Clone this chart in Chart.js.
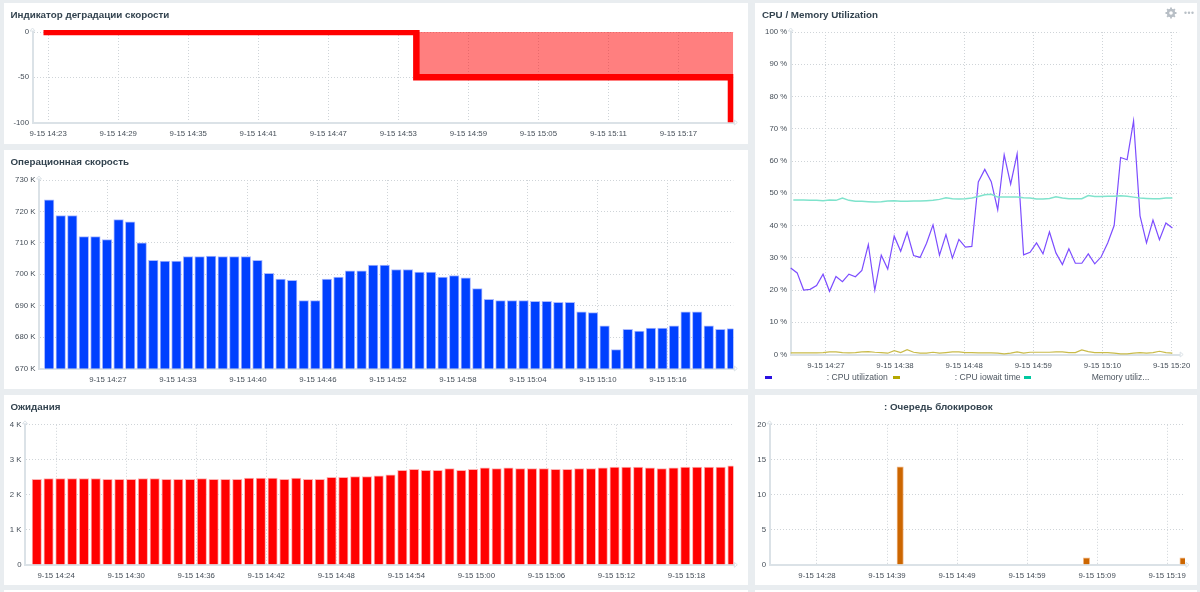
<!DOCTYPE html>
<html>
<head>
<meta charset="utf-8">
<title>Dashboard</title>
<script src="https://cdn.jsdelivr.net/npm/chart.js@4/dist/chart.umd.min.js"></script>
<style>
  html, body { margin: 0; padding: 0; width: 1200px; height: 592px; overflow: hidden; background: #e9edf0; }
  body { font-family: "Liberation Sans", Arial, sans-serif; position: relative; }
  .panel { position: absolute; background: #fff; }
  .panel canvas { position: absolute; left: 0; top: 0; }
  .title { position: absolute; font-weight: bold; font-size: 9.8px; line-height: 12px; color: #33434f; white-space: nowrap; z-index: 2; }
  .legend-box { position: absolute; height: 3px; width: 7px; top: 375.5px; }
  .legend-text { position: absolute; font-size: 8.6px; line-height: 10px; top: 372px; color: #4d5660; white-space: nowrap; }
  .icon { position: absolute; z-index: 2; }
</style>
</head>
<body>
<script>
// degradation indicator
const degradeValues = [
  0, 0, 0, 0, 0, 0, 0, 0, 0, 0, 0, 0, 0, 0, 0, 0, 0, 0, 0, 0,
  0, 0, 0, 0, 0, 0, 0, 0, 0, 0, 0, 0,
  -50, -50, -50, -50, -50, -50, -50, -50, -50, -50, -50, -50, -50, -50,
  -50, -50, -50, -50, -50, -50, -50, -50, -50, -50, -50, -50, -50, -100
];
const degradeTicks = [0.4, 6.41, 12.42, 18.43, 24.44, 30.45, 36.46, 42.47, 48.48, 54.49];
const degradeLabels = ['9-15 14:23', '9-15 14:29', '9-15 14:35', '9-15 14:41', '9-15 14:47', '9-15 14:53', '9-15 14:59', '9-15 15:05', '9-15 15:11', '9-15 15:17'];

// operations speed, K
const speedValues = [
  723.7, 718.7, 718.7, 712, 712, 711, 717.4, 716.7, 710, 704.4,
  704.2, 704.2, 705.6, 705.6, 705.8, 705.6, 705.6, 705.6, 704.4, 700.3,
  698.5, 698.1, 691.6, 691.6, 698.5, 699.1, 701.1, 701.1, 702.9, 702.9,
  701.5, 701.5, 700.7, 700.7, 699.1, 699.6, 698.9, 695.4, 692, 691.6,
  691.6, 691.6, 691.4, 691.4, 691.1, 691.1, 688, 687.8, 683.6, 676,
  682.5, 681.9, 682.9, 682.9, 683.6, 688, 688, 683.6, 682.5, 682.7
];
const speedTicks = [5.07, 11.12, 17.17, 23.22, 29.27, 35.32, 41.37, 47.42, 53.47];
const speedLabels = ['9-15 14:27', '9-15 14:33', '9-15 14:40', '9-15 14:46', '9-15 14:52', '9-15 14:58', '9-15 15:04', '9-15 15:10', '9-15 15:16'];

// waits, K
const waitValues = [
  2.44, 2.46, 2.46, 2.46, 2.46, 2.46, 2.44, 2.44, 2.44, 2.46,
  2.46, 2.44, 2.44, 2.44, 2.46, 2.44, 2.44, 2.44, 2.48, 2.48,
  2.48, 2.44, 2.48, 2.44, 2.44, 2.5, 2.5, 2.52, 2.52, 2.54,
  2.57, 2.7, 2.73, 2.7, 2.7, 2.75, 2.7, 2.73, 2.77, 2.75,
  2.77, 2.75, 2.75, 2.75, 2.73, 2.73, 2.75, 2.75, 2.77, 2.79,
  2.79, 2.79, 2.77, 2.75, 2.77, 2.79, 2.79, 2.79, 2.79, 2.83
];
const waitTicks = [1.64, 7.58, 13.52, 19.46, 25.4, 31.34, 37.28, 43.22, 49.16, 55.1];
const waitLabels = ['9-15 14:24', '9-15 14:30', '9-15 14:36', '9-15 14:42', '9-15 14:48', '9-15 14:54', '9-15 15:00', '9-15 15:06', '9-15 15:12', '9-15 15:18'];

// lock queue
const lockValues = [
  0, 0, 0, 0, 0, 0, 0, 0, 0, 0, 0, 0, 0, 0, 0, 0, 0, 0, 14, 0,
  0, 0, 0, 0, 0, 0, 0, 0, 0, 0, 0, 0, 0, 0, 0, 0, 0, 0, 0, 0,
  0, 0, 0, 0, 0, 1, 0, 0, 0, 0, 0, 0, 0, 0, 0, 0, 0, 0, 0, 1
];
const lockTicks = [5.94, 16.09, 26.24, 36.39, 46.54, 56.69];
const lockLabels = ['9-15 14:28', '9-15 14:39', '9-15 14:49', '9-15 14:59', '9-15 15:09', '9-15 15:19'];

// cpu / memory, %
const cpuValues = [
  26.8, 25.3, 20, 20.2, 21.4, 24.9, 19.6, 24.2, 22.6, 24.9,
  24.1, 26.1, 34.1, 20, 30.8, 26.5, 36.7, 32, 37.9, 30.7,
  30.1, 34.5, 40.2, 30.8, 37.2, 29.9, 35.7, 33.3, 33.5, 53.5,
  57.4, 53.6, 44.9, 61.9, 52.8, 62.2, 30.9, 31.7, 34.6, 31.2,
  38, 31.5, 27.9, 32.8, 28.3, 28.3, 31.2, 28.1, 30.3, 34.6,
  40, 61.1, 60.4, 72.4, 43, 34.6, 41.7, 35.6, 40.8, 39.2
];
const iowaitValues = [
  0.5, 0.5, 0.5, 0.5, 0.5, 0.6, 0.8, 0.8, 0.6, 0.5,
  0.6, 0.8, 0.9, 0.7, 0.6, 0.4, 1.2, 0.6, 1.5, 0.7,
  0.4, 0.4, 0.7, 0.4, 0.6, 0.8, 0.8, 0.6, 0.6, 0.5,
  0.5, 0.5, 0.4, 0.2, 0.4, 0.8, 0.4, 0.7, 0.7, 0.7,
  0.7, 0.8, 0.8, 0.6, 0.6, 1.4, 0.9, 0.6, 0.6, 0.6,
  0.4, 0.2, 0.2, 0.4, 0.6, 0.4, 0.6, 1, 0.6, 0.4
];
const memoryValues = [
  47.9, 47.9, 47.9, 47.8, 47.8, 47.7, 47.9, 47.8, 48.5, 47.8,
  47.5, 47.5, 47.4, 47.3, 47.4, 47.6, 47.7, 47.5, 47.5, 47.6,
  47.6, 47.7, 47.8, 48.1, 48.6, 48.3, 48.2, 48.3, 48.5, 49,
  49.5, 49.7, 48.8, 48.8, 48.8, 48.8, 48.6, 48.5, 48.2, 48.2,
  48.4, 48.9, 48.5, 48.3, 48.3, 48.3, 49.3, 49, 49, 49.1,
  49.1, 49.2, 49.1, 48.8, 48.5, 48.4, 48.3, 48.3, 48.5, 48.5
];
const cpuTicks = [5.43, 16.12, 26.81, 37.5, 48.19, 58.88];
const cpuLabels = ['9-15 14:27', '9-15 14:38', '9-15 14:48', '9-15 14:59', '9-15 15:10', '9-15 15:20'];

const legendNames = [': CPU utilization', ': CPU iowait time', 'Memory utiliz...'];

Chart.defaults.font.family = '"Liberation Sans", Arial, sans-serif';
Chart.defaults.font.size = 7.8;
Chart.defaults.color = '#454e58';
Chart.defaults.animation = false;

// little arrow heads at the end of both axes
const axisArrows = {
  id: 'axisArrows',
  afterDraw(chart) {
    const { ctx, chartArea: a } = chart;
    ctx.save();
    ctx.strokeStyle = '#dbe2e7';
    ctx.fillStyle = '#fff';
    ctx.lineWidth = 1;
    ctx.beginPath();
    ctx.moveTo(a.left - 2.5, a.top - 1);
    ctx.lineTo(a.left, a.top - 4);
    ctx.lineTo(a.left + 2.5, a.top - 1);
    ctx.closePath();
    ctx.fill();
    ctx.stroke();
    ctx.beginPath();
    ctx.moveTo(a.right + 1, a.bottom - 2.5);
    ctx.lineTo(a.right + 4, a.bottom);
    ctx.lineTo(a.right + 1, a.bottom + 2.5);
    ctx.closePath();
    ctx.fill();
    ctx.stroke();
    ctx.restore();
  }
};

function addPanel(box, title, titleX, titleY) {
  const panel = document.createElement('div');
  panel.className = 'panel';
  panel.style.cssText = `left:${box.left}px;top:${box.top}px;width:${box.right - box.left}px;height:${box.bottom - box.top}px`;
  document.body.appendChild(panel);
  const canvas = document.createElement('canvas');
  canvas.width = box.right - box.left;
  canvas.height = box.bottom - box.top;
  canvas.style.width = canvas.width + 'px';
  canvas.style.height = canvas.height + 'px';
  panel.appendChild(canvas);
  if (title) {
    const t = document.createElement('div');
    t.className = 'title';
    t.textContent = title;
    t.style.left = titleX + 'px';
    t.style.top = (titleY - 5.5) + 'px';
    document.body.appendChild(t);
  }
  return canvas;
}

function drawPanel(box, plot, title, titleX, titleY, datasets, x, y) {
  const canvas = addPanel(box, title, titleX, titleY);
  return new Chart(canvas, {
    data: { datasets },
    plugins: [axisArrows],
    options: {
      responsive: false,
      parsing: false,
      normalized: true,
      layout: { padding: { top: plot.top - box.top, right: box.right - plot.right, left: 0, bottom: 0 } },
      plugins: { legend: { display: false }, tooltip: { enabled: false } },
      scales: {
        x: {
          type: 'linear', min: x.min, max: x.max, offset: false,
          afterBuildTicks: axis => { axis.ticks = x.ticks.map(value => ({ value })); },
          afterFit: axis => { axis.height = box.bottom - plot.bottom; },
          ticks: { autoSkip: false, maxRotation: 0, padding: 6.5, callback: (v, i) => x.labels[i] },
          grid: { offset: false, color: '#cfd4d8', lineWidth: 1, drawTicks: false },
          border: { color: '#dbe2e7', width: 2, dash: [1, 2] }
        },
        y: {
          type: 'linear', min: y.min, max: y.max,
          afterFit: axis => { axis.width = plot.left - box.left; },
          ticks: { stepSize: y.step, padding: 3.5, callback: y.format },
          grid: { color: '#cfd4d8', lineWidth: 1, drawTicks: false },
          border: { color: '#dbe2e7', width: 2, dash: [1, 2] }
        }
      }
    }
  });
}

function points(values) {
  return values.map((v, i) => ({ x: i, y: v }));
}

function barSet(values, thickness, fill, edge) {
  return {
    type: 'bar', data: points(values), barThickness: thickness, clip: 0,
    backgroundColor: fill, borderColor: edge, borderWidth: 1, borderSkipped: 'bottom'
  };
}

function lineSet(data, colour, width) {
  return { type: 'line', data, borderColor: colour, borderWidth: width, pointRadius: 0, tension: 0, fill: false, clip: 8 };
}

// degradation: red step line plus a translucent band up to zero
const degradeBand = degradeValues
  .map((v, i) => ({ x: i, y: v }))
  .filter(p => p.y === -50);
degradeBand.push({ x: 59.2, y: -50 });

drawPanel(
  { left: 3.5, top: 3, right: 748, bottom: 143.5 },
  { left: 32, top: 32, right: 733.3, bottom: 123 },
  'Индикатор деградации скорости', 10.5, 14,
  [
    { type: 'line', data: degradeBand, borderWidth: 0, pointRadius: 0, fill: { value: 0 }, backgroundColor: 'rgba(255,0,0,0.5)', order: 2, clip: 0 },
    {
      type: 'line', data: points(degradeValues), stepped: 'before', borderColor: '#ff0000', borderWidth: 6.5,
      borderJoinStyle: 'miter', borderCapStyle: 'butt', pointRadius: 0, fill: false, order: 1,
      clip: { left: 20, top: 2, right: 0, bottom: 0 }
    }
  ],
  { min: -0.943, max: 59.2, ticks: degradeTicks, labels: degradeLabels },
  { min: -100, max: 0, step: 50, format: v => String(v) }
);

drawPanel(
  { left: 3.5, top: 149.5, right: 748, bottom: 388.5 },
  { left: 38.5, top: 179.5, right: 733.3, bottom: 368 },
  'Операционная скорость', 10.5, 161,
  [barSet(speedValues, 9.6, '#0040ff', '#a9b9ff')],
  { min: -0.877, max: 59.12, ticks: speedTicks, labels: speedLabels },
  { min: 670, max: 730, step: 10, format: v => v + ' K' }
);

drawPanel(
  { left: 3.5, top: 394.5, right: 748, bottom: 584.5 },
  { left: 24.5, top: 424.3, right: 733.3, bottom: 564.3 },
  'Ожидания', 10.5, 406,
  [barSet(waitValues, 9.4, '#ff0000', '#ffb0b0')],
  { min: -1, max: 59.07, ticks: waitTicks, labels: waitLabels },
  { min: 0, max: 4, step: 1, format: v => (v === 0 ? '0' : v + ' K') }
);

drawPanel(
  { left: 755, top: 394.5, right: 1197, bottom: 584.5 },
  { left: 769.5, top: 424.3, right: 1185, bottom: 564.3 },
  ': Очередь блокировок', 884, 406,
  [barSet(lockValues, 6.4, '#cc6600', '#f0b888')],
  { min: -0.94, max: 59.28, ticks: lockTicks, labels: lockLabels },
  { min: 0, max: 20, step: 5, format: v => String(v) }
);

// memory line starts a bit right of the axis
const memoryPoints = points(memoryValues);
memoryPoints[0].x = 0.4;

const lineColours = ['#7c4dff', '#c9bb4a', '#7fe3cc'];
drawPanel(
  { left: 755, top: 3, right: 1197, bottom: 388.5 },
  { left: 790.7, top: 32, right: 1184, bottom: 355 },
  'CPU / Memory Utilization', 762, 14,
  [
    lineSet(memoryPoints, lineColours[2], 1.5),
    lineSet(points(iowaitValues), lineColours[1], 1.2),
    lineSet(points(cpuValues), lineColours[0], 1.2)
  ],
  { min: 0, max: 60.05, ticks: cpuTicks, labels: cpuLabels },
  { min: 0, max: 100, step: 10, format: v => v + ' %' }
);

// legend row of the cpu panel
const legendBoxColours = ['#2a10e0', '#b5a800', '#00c8a0'];
const legendBoxX = [765, 892.7, 1024.3];
const legendTextX = [826.7, 954.7, 1091.7];
legendNames.forEach((name, i) => {
  const box = document.createElement('div');
  box.className = 'legend-box';
  box.style.left = legendBoxX[i] + 'px';
  box.style.background = legendBoxColours[i];
  document.body.appendChild(box);
  const text = document.createElement('div');
  text.className = 'legend-text';
  text.style.left = legendTextX[i] + 'px';
  text.textContent = name;
  document.body.appendChild(text);
});

// gear and dots in the cpu panel header
const icons = document.createElement('div');
icons.className = 'icon';
icons.style.cssText = 'left:1164px;top:6px';
icons.innerHTML = `<svg width="32" height="14" viewBox="0 0 32 14">
  <g stroke="#b8bfc6" fill="none"><circle cx="7" cy="7" r="3" stroke-width="2.4"/>
  <path d="M7 1.5V3.5M7 10.5V12.5M1.5 7H3.5M10.5 7H12.5M3.1 3.1L4.5 4.5M9.5 9.5L10.9 10.9M3.1 10.9L4.5 9.5M9.5 4.5L10.9 3.1" stroke-width="1.8"/></g>
  <g fill="#b8bfc6"><circle cx="21.5" cy="6.7" r="1.2"/><circle cx="25" cy="6.7" r="1.2"/><circle cx="28.5" cy="6.7" r="1.2"/></g>
</svg>`;
document.body.appendChild(icons);

// top of the next dashboard row
[[3.5, 744.5], [755, 442]].forEach(([left, width]) => {
  const strip = document.createElement('div');
  strip.className = 'panel';
  strip.style.cssText = `left:${left}px;top:590px;width:${width}px;height:2px`;
  document.body.appendChild(strip);
});
</script>
</body>
</html>
